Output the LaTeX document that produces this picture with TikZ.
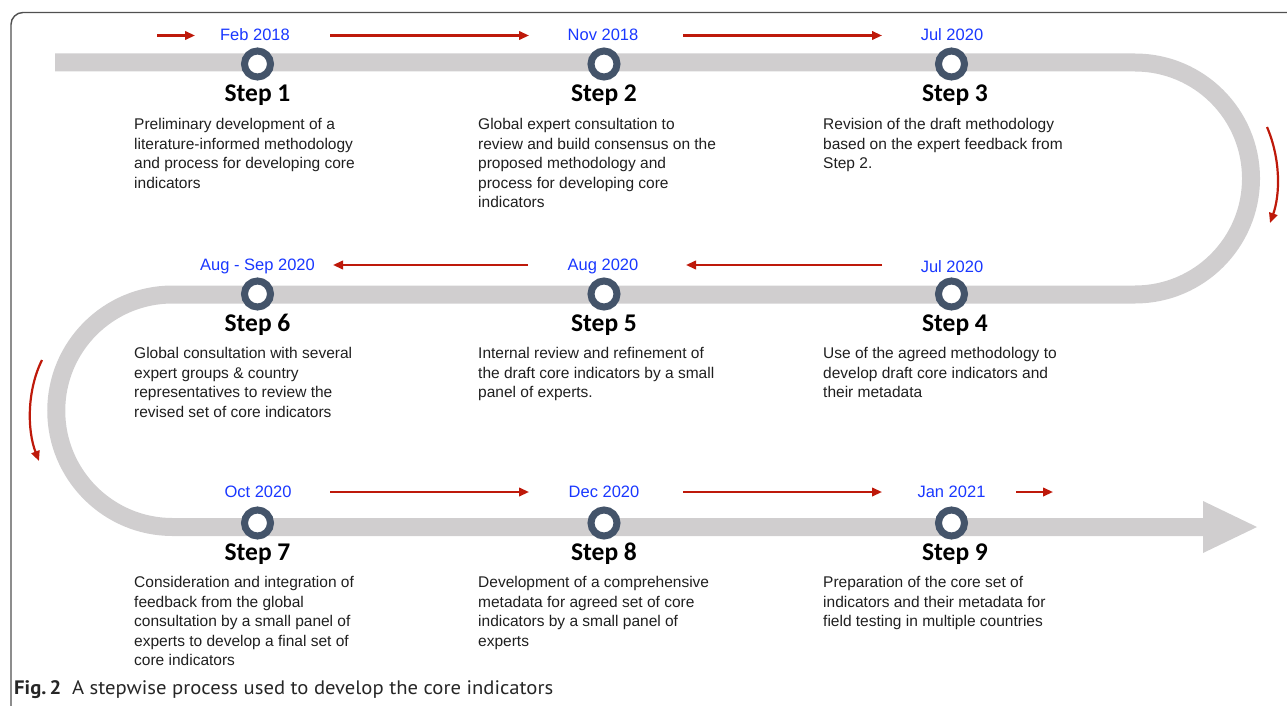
\documentclass[tikz,border=0pt]{standalone}
\usepackage{fontspec}
\setmainfont{Liberation Sans}
\newfontfamily\stepfont{Carlito}
\newfontfamily\capfont[FakeStretch=1.06]{PT Sans}
\usetikzlibrary{arrows.meta}
\definecolor{trackgray}{RGB}{208,206,207}
\definecolor{ringblue}{RGB}{68,84,106}
\definecolor{datecol}{RGB}{25,55,255}
\definecolor{arrred}{RGB}{190,25,10}
\definecolor{framegray}{RGB}{80,80,80}
\begin{document}
\begin{tikzpicture}[x=1pt,y=1pt,
  track/.style={draw=trackgray, line width=18pt},
  ring/.style={circle, draw=ringblue, line width=7pt, fill=white, minimum size=26pt, inner sep=0pt},
  steplabel/.style={font=\stepfont\bfseries\fontsize{25.5}{30}\selectfont, anchor=base, inner sep=0pt},
  datelabel/.style={font=\fontsize{16.5}{20}\selectfont, text=datecol, anchor=base, inner sep=0pt},
  desc/.style={font=\fontsize{15.5}{19.5}\selectfont, align=left, anchor=north west, inner sep=0pt, text=black!88},
  redarrow/.style={draw=arrred, line width=2.2pt, -{Triangle[length=10pt,width=8.5pt]}},
]
\useasboundingbox (0,0) rectangle (1287,-706);
% frame
\draw[framegray, line width=1.4pt, rounded corners=12pt] (11,-720) -- (11,-12.5) -- (1300,-12.5);
% track
\coordinate (t0) at (55,-62.5);
\coordinate (t1) at (1135,-62.5);
\coordinate (t2) at (172.5,-294.5);
\coordinate (t3) at (1203,-527);
\draw[track] (t0) -- (t1) arc[start angle=90, end angle=-90, radius=116] -- (t2) arc[start angle=90, end angle=270, radius=116.25] -- (t3);
\fill[trackgray] (1203,-501) -- (1257,-527) -- (1203,-553) -- cycle;
% rings
\node[ring] (c1) at (257.5,-64) {};
\node[ring] (c2) at (604,-64) {};
\node[ring] (c3) at (951.5,-64) {};
\node[ring] (c6) at (257.5,-294) {};
\node[ring] (c5) at (604,-294) {};
\node[ring] (c4) at (951.5,-294) {};
\node[ring] (c7) at (257.5,-523) {};
\node[ring] (c8) at (604,-523) {};
\node[ring] (c9) at (951.5,-523) {};
% step labels
\node[steplabel] (s1) at (257.5,-101.5) {Step 1};
\node[steplabel] (s2) at (604,-101.5) {Step 2};
\node[steplabel] (s3) at (955,-101.5) {Step 3};
\node[steplabel] (s6) at (257.5,-331.5) {Step 6};
\node[steplabel] (s5) at (604,-331.5) {Step 5};
\node[steplabel] (s4) at (955,-331.5) {Step 4};
\node[steplabel] (s7) at (257.5,-560.5) {Step 7};
\node[steplabel] (s8) at (604,-560.5) {Step 8};
\node[steplabel] (s9) at (955,-560.5) {Step 9};
% dates
\node[datelabel] (d1) at (255,-41) {Feb 2018};
\node[datelabel] (d2) at (603,-41) {Nov 2018};
\node[datelabel] (d3) at (952,-41) {Jul 2020};
\node[datelabel] (d6) at (257.5,-270) {Aug - Sep 2020};
\node[datelabel] (d5) at (603,-270) {Aug 2020};
\node[datelabel] (d4) at (952,-272) {Jul 2020};
\node[datelabel] (d7) at (258,-497) {Oct 2020};
\node[datelabel] (d8) at (604,-497) {Dec 2020};
\node[datelabel] (d9) at (951.5,-497) {Jan 2021};
% descriptions
\node[desc] (x1) at (134,-118.5) {Preliminary development of a\\literature-informed methodology\\and process for developing core\\indicators};
\node[desc] (x2) at (478,-118.5) {Global expert consultation to\\review and build consensus on the\\proposed methodology and\\process for developing core\\indicators};
\node[desc] (x3) at (823,-118.5) {Revision of the draft methodology\\based on the expert feedback from\\Step 2.};
\node[desc] (x6) at (134,-347.5) {Global consultation with several\\expert groups \& country\\representatives to review the\\revised set of core indicators};
\node[desc] (x5) at (478,-347.5) {Internal review and refinement of\\the draft core indicators by a small\\panel of experts.};
\node[desc] (x4) at (823,-347.5) {Use of the agreed methodology to\\develop draft core indicators and\\their metadata};
\node[desc] (x7) at (134,-576.5) {Consideration and integration of\\feedback from the global\\consultation by a small panel of\\experts to develop a final set of\\core indicators};
\node[desc] (x8) at (478,-576.5) {Development of a comprehensive\\metadata for agreed set of core\\indicators by a small panel of\\experts};
\node[desc] (x9) at (823,-576.5) {Preparation of the core set of\\indicators and their metadata for\\field testing in multiple countries};
% red arrows
\coordinate (a1s) at (157,-35.5); \coordinate (a1e) at (195,-35.5);
\coordinate (a2s) at (330,-35.5); \coordinate (a2e) at (529,-35.5);
\coordinate (a3s) at (683,-35.5); \coordinate (a3e) at (882,-35.5);
\coordinate (b1s) at (528,-265); \coordinate (b1e) at (333,-265);
\coordinate (b2s) at (882,-265); \coordinate (b2e) at (686,-265);
\coordinate (e1s) at (330,-492); \coordinate (e1e) at (529,-492);
\coordinate (e2s) at (683,-492); \coordinate (e2e) at (882,-492);
\coordinate (e3s) at (1016,-492); \coordinate (e3e) at (1053,-492);
\coordinate (r1s) at (1267,-127); \coordinate (r1e) at (1270,-223);
\coordinate (l1s) at (42,-360); \coordinate (l1e) at (39,-461);
\draw[redarrow] (a1s) -- (a1e);
\draw[redarrow] (a2s) -- (a2e);
\draw[redarrow] (a3s) -- (a3e);
\draw[redarrow] (b1s) -- (b1e);
\draw[redarrow] (b2s) -- (b2e);
\draw[redarrow] (e1s) -- (e1e);
\draw[redarrow] (e2s) -- (e2e);
\draw[redarrow] (e3s) -- (e3e);
\draw[redarrow] (r1s) .. controls (1281,-160) and (1280,-195) .. (r1e);
\draw[redarrow] (l1s) .. controls (27,-390) and (27,-430) .. (l1e);
% caption
\node[anchor=base west, inner sep=0pt, font=\capfont\fontsize{19.5}{23}\selectfont, text=black!85] (cap) at (14,-694) {\textbf{Fig.\,2}\hspace{0.55em}A stepwise process used to develop the core indicators};
\end{tikzpicture}
\end{document}
